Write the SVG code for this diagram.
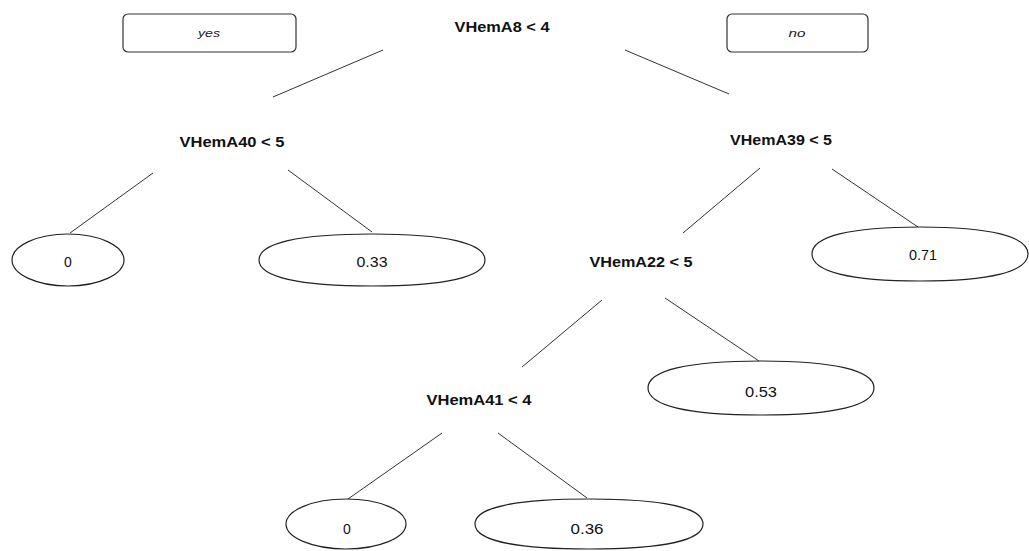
<svg xmlns="http://www.w3.org/2000/svg" width="1029" height="551" viewBox="0 0 1029 551">
<style>
.edge{stroke:#333;stroke-width:1;fill:none}
.leaf{fill:#fff;stroke:#222;stroke-width:1.2}
.box{fill:#fff;stroke:#333;stroke-width:1.2}
.split{font-family:"Liberation Sans",Arial,sans-serif;font-weight:bold;font-size:14px;fill:#111;text-anchor:middle}
.val{font-family:"Liberation Sans",Arial,sans-serif;font-size:14px;fill:#111;text-anchor:middle}
.lab{font-family:"Liberation Sans",Arial,sans-serif;font-style:italic;font-size:11px;fill:#222;text-anchor:middle}
</style>
<rect width="1029" height="551" fill="#fff"/>
<g id="connectors">
<line class="edge" x1="383" y1="50" x2="273" y2="97"/>
<line class="edge" x1="625" y1="50" x2="729" y2="94"/>
<line class="edge" x1="153" y1="173" x2="70" y2="233"/>
<line class="edge" x1="288" y1="170" x2="372" y2="232"/>
<line class="edge" x1="760" y1="168" x2="683" y2="233"/>
<line class="edge" x1="832" y1="169" x2="918" y2="227"/>
<line class="edge" x1="602" y1="300" x2="522" y2="367"/>
<line class="edge" x1="665" y1="298" x2="759" y2="361"/>
<line class="edge" x1="442" y1="433" x2="348" y2="499"/>
<line class="edge" x1="498" y1="433" x2="587" y2="498"/>
</g>
<g id="yes-label">
<rect class="box" x="123" y="14" width="173" height="38" rx="5"/>
<text class="lab" x="209" y="37" textLength="22" lengthAdjust="spacingAndGlyphs">yes</text>
</g>
<g id="no-label">
<rect class="box" x="727" y="14" width="141" height="38" rx="5"/>
<text class="lab" x="797" y="37" textLength="17" lengthAdjust="spacingAndGlyphs">no</text>
</g>
<g id="n-VHemA8">
<text class="split" x="502" y="32" textLength="95" lengthAdjust="spacingAndGlyphs">VHemA8 &lt; 4</text>
</g>
<g id="n-VHemA40">
<text class="split" x="232" y="147" textLength="105" lengthAdjust="spacingAndGlyphs">VHemA40 &lt; 5</text>
</g>
<g id="n-VHemA39">
<text class="split" x="781" y="145" textLength="102" lengthAdjust="spacingAndGlyphs">VHemA39 &lt; 5</text>
</g>
<g id="n-VHemA22">
<text class="split" x="641" y="267" textLength="103" lengthAdjust="spacingAndGlyphs">VHemA22 &lt; 5</text>
</g>
<g id="n-VHemA41">
<text class="split" x="479" y="405" textLength="105" lengthAdjust="spacingAndGlyphs">VHemA41 &lt; 4</text>
</g>
<g id="leaf-0a">
<ellipse class="leaf" cx="68" cy="260" rx="56" ry="26"/>
<text class="val" x="68" y="267">0</text>
</g>
<g id="leaf-033">
<path class="leaf" d="M259,260 C259,243.1 298.55,234 372,234 C445.45,234 485,243.1 485,260 C485,276.9 445.45,286 372,286 C298.55,286 259,276.9 259,260Z"/>
<text class="val" x="372" y="267" textLength="31" lengthAdjust="spacingAndGlyphs">0.33</text>
</g>
<g id="leaf-071">
<path class="leaf" d="M812,254 C812,236.45 849.8,227 920,227 C990.2,227 1028,236.45 1028,254 C1028,271.55 990.2,281 920,281 C849.8,281 812,271.55 812,254Z"/>
<text class="val" x="923" y="260" textLength="28" lengthAdjust="spacingAndGlyphs">0.71</text>
</g>
<g id="leaf-053">
<path class="leaf" d="M648,388 C648,370.45 687.55,361 761,361 C834.45,361 874,370.45 874,388 C874,405.55 834.45,415 761,415 C687.55,415 648,405.55 648,388Z"/>
<text class="val" x="761" y="397" textLength="32" lengthAdjust="spacingAndGlyphs">0.53</text>
</g>
<g id="leaf-0b">
<ellipse class="leaf" cx="346" cy="524" rx="60" ry="25"/>
<text class="val" x="347" y="534">0</text>
</g>
<g id="leaf-036">
<path class="leaf" d="M475,524 C475,507.75 514.9,499 589,499 C663.1,499 703,507.75 703,524 C703,540.25 663.1,549 589,549 C514.9,549 475,540.25 475,524Z"/>
<text class="val" x="587" y="534" textLength="33" lengthAdjust="spacingAndGlyphs">0.36</text>
</g>
</svg>
